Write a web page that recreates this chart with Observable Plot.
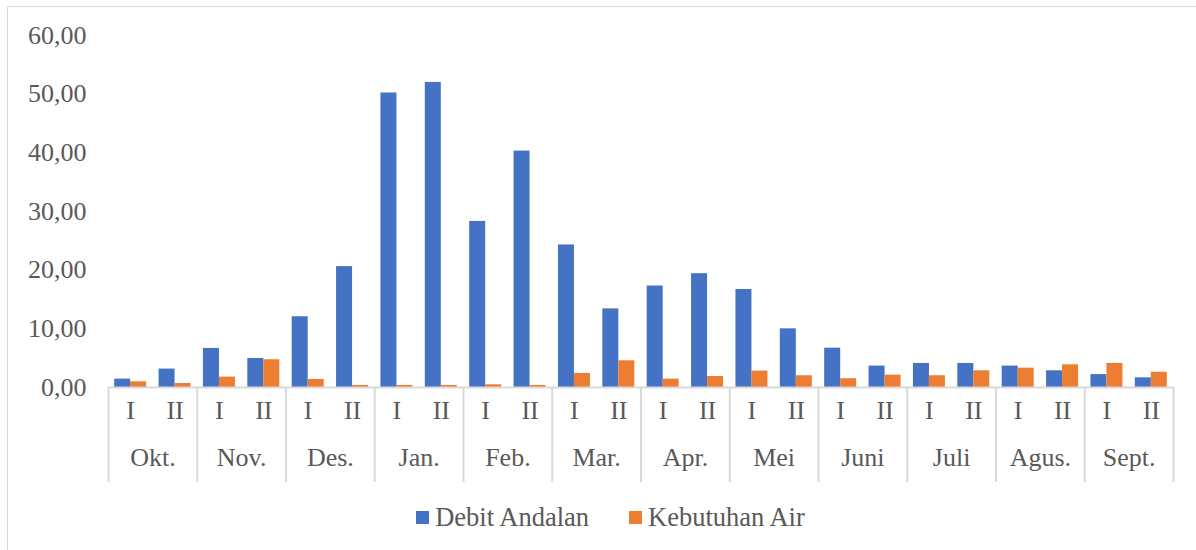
<!DOCTYPE html>
<html>
<head>
<meta charset="utf-8">
<script src="https://cdn.jsdelivr.net/npm/d3@7"></script>
<script src="https://cdn.jsdelivr.net/npm/@observablehq/plot@0.6"></script>
<style>
  html, body { margin: 0; padding: 0; background: #fff; }
  #wrap { position: relative; width: 1196px; height: 550px; overflow: hidden; font-family: "Liberation Serif", "Times New Roman", serif; }
  #frame { position: absolute; left: 7px; top: 6px; width: 1200px; height: 560px; border: 1.5px solid #d9d9d9; box-sizing: border-box; }
  #chart { position: absolute; left: 0; top: 0; }
  #legend { position: absolute; top: 502px; left: 0; width: 1221px; display: flex; justify-content: center; gap: 40px; font-size: 26.5px; color: #595959; font-family: "Liberation Serif", serif; }
  #legend span.item { display: flex; align-items: center; }
  #legend span.sw { display: inline-block; width: 13px; height: 13px; margin-right: 6px; }
</style>
</head>
<body>
<div id="wrap">
  <div id="frame"></div>
  <div id="chart"></div>
  <div id="legend"></div>
</div>
<script>
const months = ["Okt.","Nov.","Des.","Jan.","Feb.","Mar.","Apr.","Mei","Juni","Juli","Agus.","Sept."];
const periods = ["I","II"];
const seriesNames = ["Debit Andalan","Kebutuhan Air"];
const seriesColors = ["#4472C4","#ED7D31"];
const debitAndalan = [1.43,3.14,6.66,4.95,12.06,20.6,50.2,52.0,28.3,40.3,24.3,13.4,17.3,19.4,16.7,10.0,6.7,3.65,4.1,4.1,3.65,2.85,2.2,1.65];
const kebutuhanAir = [0.97,0.68,1.77,4.73,1.37,0.35,0.35,0.35,0.46,0.35,2.4,4.55,1.43,1.88,2.8,2.0,1.5,2.1,2.0,2.85,3.3,3.87,4.1,2.6];
const yTicks = [0,10,20,30,40,50,60];

const n = debitAndalan.length;
const idx = d3.range(n);
const sepTicks = d3.range(0, n + 1, 2);
const fmt = v => d3.format(".2f")(v).replace(".", ",");

const W = 1196, H = 550;
const mL = 108, mR = 23;
const band = (W - mL - mR) / n;
const barW = 16;
const gap = (band - 2 * barW) / 2;
const FS = 26;

const chart = Plot.plot({
  width: W,
  height: H,
  marginLeft: mL,
  marginRight: mR,
  marginTop: 35,
  marginBottom: 163,
  style: { fontFamily: "'Liberation Serif', 'Times New Roman', serif", fontSize: FS + "px", color: "#595959", background: "transparent" },
  x: { type: "linear", domain: [0, n], axis: null },
  y: { domain: [0, 60], axis: null },
  marks: [
    Plot.rectY(idx, { x1: i => i, x2: i => i + 1, y: i => debitAndalan[i], fill: seriesColors[0], insetLeft: gap, insetRight: gap + barW }),
    Plot.rectY(idx, { x1: i => i, x2: i => i + 1, y: i => kebutuhanAir[i], fill: seriesColors[1], insetLeft: gap + barW, insetRight: gap }),
    Plot.ruleY([0], { stroke: "#d9d9d9", strokeWidth: 2 }),
    Plot.axisX({ ticks: sepTicks, tickSize: 95, tickFormat: () => "", stroke: "#d9d9d9", strokeWidth: 2, strokeOpacity: 1, label: null }),
    Plot.axisY({ ticks: yTicks, tickSize: 0, tickPadding: 22, tickFormat: fmt, fill: "#595959", fontSize: FS, fontFamily: "Liberation Serif", label: null }),
    Plot.text(idx, { x: i => i + 0.5, text: i => periods[i % 2], frameAnchor: "bottom", dy: 31, fill: "#595959", fontSize: FS, fontFamily: "Liberation Serif" }),
    Plot.text(months, { x: (d, i) => 2 * i + 1, text: d => d, frameAnchor: "bottom", dy: 78, fill: "#595959", fontSize: FS, fontFamily: "Liberation Serif" })
  ]
});
document.getElementById("chart").appendChild(chart);

const legend = document.getElementById("legend");
seriesNames.forEach((name, k) => {
  const item = document.createElement("span");
  item.className = "item";
  const sw = document.createElement("span");
  sw.className = "sw";
  sw.style.background = seriesColors[k];
  item.appendChild(sw);
  item.appendChild(document.createTextNode(name));
  legend.appendChild(item);
});
</script>
</body>
</html>
